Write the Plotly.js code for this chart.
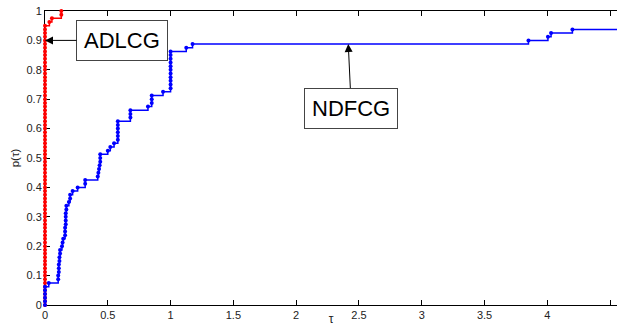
<!DOCTYPE html>
<html>
<head>
<meta charset="utf-8">
<script src="https://cdn.plot.ly/plotly-3.0.1.min.js"></script>
<style>html,body{margin:0;padding:0;background:#fff;}#chart{width:617px;height:326px;}</style>
</head>
<body>
<div id="chart"></div>
<script>
// Series names
const seriesNames = ["ADLCG", "NDFCG"];

// ADLCG performance profile (tau, p(tau))
const adlcgTau = [
  0,0,0,0,0,0,0,0,0,0,0,0,0,0,0,0,0,0,0,0,
  0,0,0,0,0,0,0,0,0,0,0,0,0,0,0,0,0,0,0,0,
  0,0,0,0,0,0,0,0,0,0,0,0,0,0,0,0,0,0,0,0,
  0,0,0,0,0,0,0,0,0,0,0,0,0,0,0,0,0,
  0.035,0.055,0.13,0.13
];
const adlcgP = [
  0,0.0125,0.025,0.0375,0.05,0.0625,0.075,0.0875,0.1,0.1125,0.125,0.1375,0.15,0.1625,0.175,0.1875,0.2,0.2125,0.225,0.2375,
  0.25,0.2625,0.275,0.2875,0.3,0.3125,0.325,0.3375,0.35,0.3625,0.375,0.3875,0.4,0.4125,0.425,0.4375,0.45,0.4625,0.475,0.4875,
  0.5,0.5125,0.525,0.5375,0.55,0.5625,0.575,0.5875,0.6,0.6125,0.625,0.6375,0.65,0.6625,0.675,0.6875,0.7,0.7125,0.725,0.7375,
  0.75,0.7625,0.775,0.7875,0.8,0.8125,0.825,0.8375,0.85,0.8625,0.875,0.8875,0.9,0.9125,0.925,0.9375,0.95,
  0.9625,0.975,0.9875,1.0
];

// NDFCG performance profile (tau, p(tau))
const ndfcgTau = [
  0,0,0,0,0,0,
  0.03,
  0.105,0.105,0.11,0.11,0.11,0.115,0.115,0.12,0.12,
  0.135,0.14,0.145,
  0.16,0.16,0.16,0.165,0.165,0.165,0.165,0.17,0.17,
  0.19,0.2,0.2,
  0.22,
  0.26,
  0.32,0.32,
  0.42,0.425,0.43,0.435,0.44,0.44,0.44,
  0.5,
  0.52,
  0.55,
  0.58,0.58,0.58,0.58,0.58,0.58,
  0.68,0.68,0.68,
  0.82,
  0.85,0.85,0.85,
  0.94,
  1.0,1.0,1.0,1.0,1.0,1.0,1.0,1.0,1.0,1.0,1.0,
  1.125,
  1.175,
  3.85,4.005,4.03,4.2,4.6
];
const ndfcgP = [
  0,0.0125,0.025,0.0375,0.05,0.0625,
  0.075,
  0.0875,0.1,0.1125,0.125,0.1375,0.15,0.1625,0.175,0.1875,
  0.2,0.2125,0.225,
  0.2375,0.25,0.2625,0.275,0.2875,0.3,0.3125,0.325,0.3375,
  0.35,0.3625,0.375,
  0.3875,
  0.4,
  0.4125,0.425,
  0.4375,0.45,0.4625,0.475,0.4875,0.5,0.5125,
  0.525,
  0.5375,
  0.55,
  0.5625,0.575,0.5875,0.6,0.6125,0.625,
  0.6375,0.65,0.6625,
  0.675,
  0.6875,0.7,0.7125,
  0.725,
  0.7375,0.75,0.7625,0.775,0.7875,0.8,0.8125,0.825,0.8375,0.85,0.8625,
  0.875,
  0.8875,
  0.9,0.9125,0.925,0.9375,0.9375
];

const xTicks = [0,0.5,1,1.5,2,2.5,3,3.5,4,4.5];
const xTickText = ["0","0.5","1","1.5","2","2.5","3","3.5","4","4.5"];
const yTicks = [0,0.1,0.2,0.3,0.4,0.5,0.6,0.7,0.8,0.9,1];
const yTickText = ["0","0.1","0.2","0.3","0.4","0.5","0.6","0.7","0.8","0.9","1"];

const traces = [
  {
    x: adlcgTau, y: adlcgP, name: seriesNames[0], type: "scatter", mode: "lines+markers",
    line: {shape: "hv", color: "#ff0000", width: 1.5},
    marker: {color: "#ff0000", size: 4, symbol: "circle"},
    cliponaxis: false
  },
  {
    x: ndfcgTau, y: ndfcgP, name: seriesNames[1], type: "scatter", mode: "lines+markers",
    line: {shape: "hv", color: "#0000ff", width: 1.5},
    marker: {color: "#0000ff", size: 4, symbol: "circle"},
    cliponaxis: false
  }
];

const tickFont = {family: "Liberation Sans, Arial, sans-serif", size: 11, color: "#222"};

const layout = {
  width: 617, height: 326,
  margin: {l: 45, r: 0, t: 11, b: 21},
  paper_bgcolor: "#fff", plot_bgcolor: "#fff",
  showlegend: false,
  xaxis: {
    range: [0, 4.555], tickvals: xTicks, ticktext: xTickText,
    ticks: "inside", ticklen: 5, tickcolor: "#000", tickwidth: 1,
    showline: true, linecolor: "#000", linewidth: 1, mirror: "ticks",
    showgrid: false, zeroline: false, tickfont: tickFont, automargin: false,
    layer: "below traces",
    title: {text: "τ", font: {family: "Liberation Sans, Arial, sans-serif", size: 12, color: "#222"}, standoff: 0}
  },
  yaxis: {
    range: [0, 1], tickvals: yTicks, ticktext: yTickText,
    ticks: "inside", ticklen: 5, tickcolor: "#000", tickwidth: 1,
    showline: true, linecolor: "#000", linewidth: 1, mirror: false,
    showgrid: false, zeroline: false, tickfont: tickFont, automargin: false,
    layer: "below traces",
    title: {text: "p(τ)", font: {family: "Liberation Sans, Arial, sans-serif", size: 11.5, color: "#222"}, standoff: 4}
  },
  annotations: [
    {
      x: 0, y: 0.9, xref: "x", yref: "y", text: "ADLCG",
      showarrow: true, arrowhead: 2, arrowsize: 1.6, arrowwidth: 1, arrowcolor: "#000",
      ax: 77, ay: 0,
      font: {family: "Liberation Sans, Arial, sans-serif", size: 22, color: "#000"},
      bgcolor: "#fff", bordercolor: "#444", borderwidth: 1, borderpad: 7
    },
    {
      x: 2.415, y: 0.8875, xref: "x", yref: "y", text: "NDFCG",
      showarrow: true, arrowhead: 2, arrowsize: 1.6, arrowwidth: 1, arrowcolor: "#000",
      ax: 3, ay: 64,
      font: {family: "Liberation Sans, Arial, sans-serif", size: 22, color: "#000"},
      bgcolor: "#fff", bordercolor: "#444", borderwidth: 1, borderpad: 7
    }
  ]
};

Plotly.newPlot("chart", traces, layout, {staticPlot: true, displayModeBar: false});
</script>
</body>
</html>
